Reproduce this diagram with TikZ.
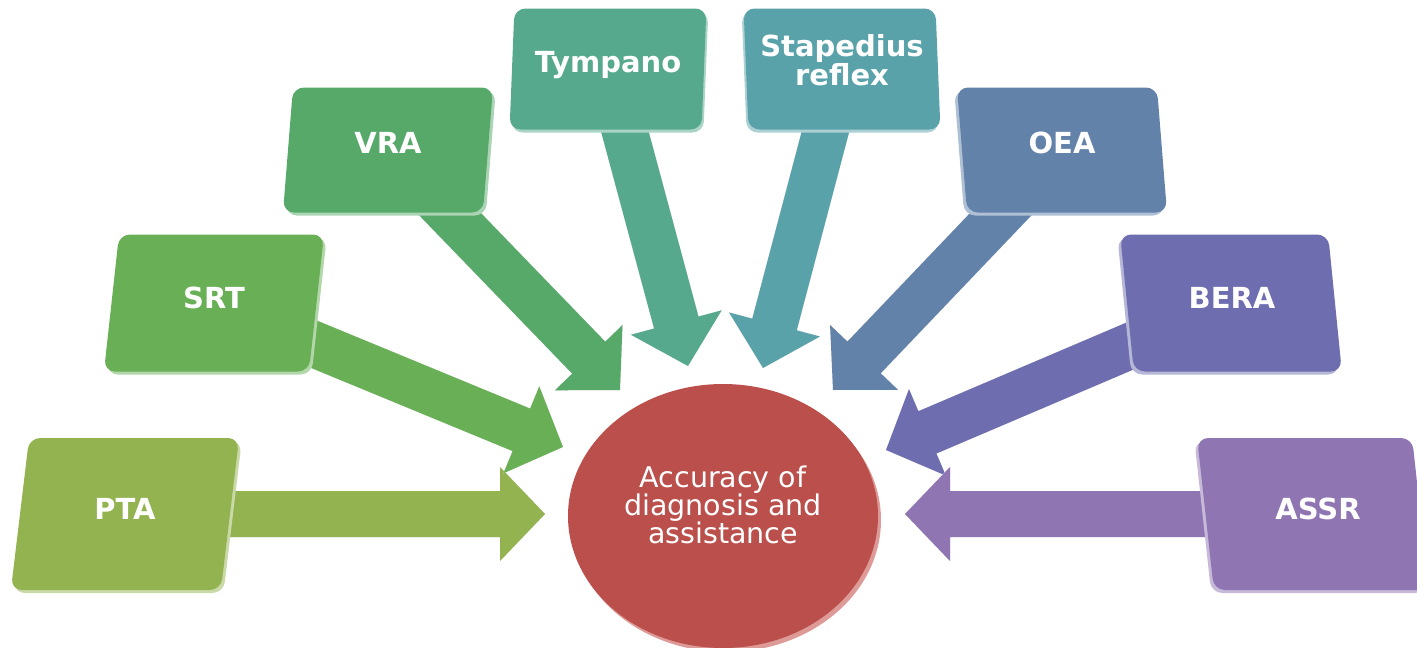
\documentclass[tikz,border=0pt]{standalone}
\usepackage{fontspec}
\setmainfont{DejaVu Sans}
\usetikzlibrary{shapes.geometric}

\definecolor{ptac}{HTML}{93B350}
\definecolor{srtc}{HTML}{68AF55}
\definecolor{vrac}{HTML}{57A96A}
\definecolor{tymc}{HTML}{57A98D}
\definecolor{stac}{HTML}{5AA2AA}
\definecolor{oeac}{HTML}{6282AA}
\definecolor{berac}{HTML}{6D6DB0}
\definecolor{assrc}{HTML}{8F76B3}
\definecolor{accc}{HTML}{BA4F4B}
\definecolor{accrim}{HTML}{DE9A96}

\pgfdeclarelayer{bg}
\pgfsetlayers{bg,main}

% block arrow from the centre of node #1 to the point #2, filled with #3
\newcommand\blockarrow[3]{%
  \pgfpointdiff{\pgfpointanchor{#1}{center}}{\pgfpointanchor{#2}{center}}%
  \pgfgetlastxy\arrdx\arrdy
  \pgfmathsetmacro\arlen{veclen(\arrdx,\arrdy)}%
  \pgfmathsetmacro\arang{atan2(\arrdy,\arrdx)}%
  \foreach \sh/\col in {-3.5/black!25, -1.8/white, 0/#3}{%
    \begin{scope}[yshift=\sh pt, shift={(#1.center)}, rotate=\arang, x=1pt, y=1pt]
      \fill[\col] (0,-23) -- (\arlen-45,-23) -- (\arlen-45,-47) -- (\arlen,0)
        -- (\arlen-45,47) -- (\arlen-45,23) -- (0,23) -- cycle;
    \end{scope}}}

% bevelled tile: name, centre, width, height, slant, colour, rim x offset
\newcommand\tilebox[7]{%
  \begin{scope}[shift={#2}, xslant=#5]
    \node[tile, fill=#6!50!white, minimum width=#3, minimum height=#4,
          xshift=#7, yshift=-3pt] (#1-rim) {};
    \node[tile, fill=#6, minimum width=#3, minimum height=#4] (#1) {};
  \end{scope}}

\begin{document}
\begin{tikzpicture}[x=1pt, y=-1pt,
  tile/.style={rounded corners=11pt, transform shape, inner sep=0pt},
  tilelabel/.style={text=white, font=\fontsize{29}{29}\selectfont\bfseries,
                    align=center, inner sep=0pt},
  centrelabel/.style={text=white, font=\fontsize{28.5}{28}\selectfont,
                      align=center, inner sep=0pt}]
\useasboundingbox (0,0) rectangle (1417,648);
\clip (0,0) rectangle (1417,648);

% central disc
\node[ellipse, fill=accrim, minimum width=310pt, minimum height=264pt,
      inner sep=0pt] (acc-rim) at (726,520) {};
\node[ellipse, fill=accc, minimum width=310pt, minimum height=264pt,
      inner sep=0pt] (acc) at (723,516) {};
\node[centrelabel] (acc-txt) at (723,505) {Accuracy of\\diagnosis and\\assistance};

% tiles
\tilebox{pta}{(125,514)}{210pt}{152pt}{0.12}{ptac}{3pt}
\tilebox{srt}{(214,303)}{205pt}{137pt}{0.11}{srtc}{3pt}
\tilebox{vra}{(388,150)}{200pt}{125pt}{0.08}{vrac}{3pt}
\tilebox{tym}{(608,69)}{192pt}{121pt}{0.04}{tymc}{2pt}
\tilebox{sta}{(842,69)}{192pt}{121pt}{-0.04}{stac}{-2pt}
\tilebox{oea}{(1062,150)}{200pt}{125pt}{-0.08}{oeac}{-3pt}
\tilebox{bera}{(1231,303)}{208pt}{137pt}{-0.1}{berac}{-3pt}
\tilebox{assr}{(1313,514)}{215pt}{152pt}{-0.11}{assrc}{-3pt}

\node[tilelabel, anchor=base] (pta-txt) at (125,519) {PTA};
\node[tilelabel, anchor=base] (srt-txt) at (214,308) {SRT};
\node[tilelabel, anchor=base] (vra-txt) at (388,153) {VRA};
\node[tilelabel, anchor=base] (tym-txt) at (608,72) {Tympano};
\node[tilelabel] (sta-txt) at (842,60) {Stapedius\\reflex};
\node[tilelabel, anchor=base] (oea-txt) at (1062,153) {OEA};
\node[tilelabel, anchor=base] (bera-txt) at (1232,308) {BERA};
\node[tilelabel, anchor=base] (assr-txt) at (1318,519) {ASSR};

% arrow tips, just short of the disc
\coordinate (tip-pta) at (545,514);
\coordinate (tip-srt) at (563,447);
\coordinate (tip-vra) at (620,390);
\coordinate (tip-tym) at (688,366);
\coordinate (tip-sta) at (763,368);
\coordinate (tip-oea) at (833,390);
\coordinate (tip-bera) at (886,450);
\coordinate (tip-assr) at (905,514);

\begin{pgfonlayer}{bg}
  \blockarrow{pta}{tip-pta}{ptac}
  \blockarrow{srt}{tip-srt}{srtc}
  \blockarrow{vra}{tip-vra}{vrac}
  \blockarrow{tym}{tip-tym}{tymc}
  \blockarrow{sta}{tip-sta}{stac}
  \blockarrow{oea}{tip-oea}{oeac}
  \blockarrow{bera}{tip-bera}{berac}
  \blockarrow{assr}{tip-assr}{assrc}
\end{pgfonlayer}
\end{tikzpicture}
\end{document}
